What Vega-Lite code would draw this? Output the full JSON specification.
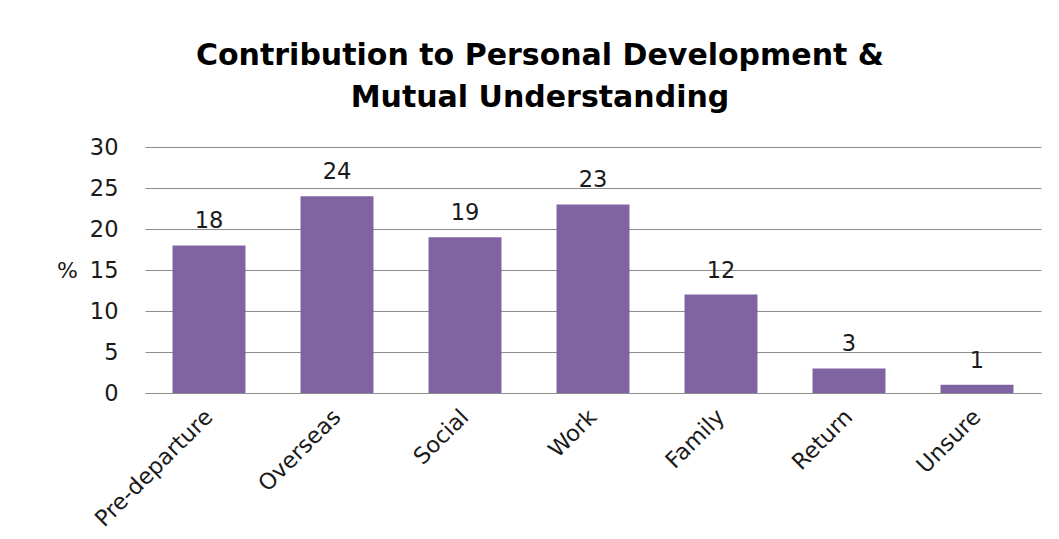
{
  "$schema": "https://vega.github.io/schema/vega-lite/v6.json",
  "autosize": "none",
  "width": 896,
  "height": 246,
  "padding": {"left": 145, "top": 147, "right": 18, "bottom": 146},
  "background": "white",
  "title": {
    "text": ["Contribution to Personal Development &", "Mutual Understanding"],
    "font": "DejaVu Sans",
    "fontSize": 30,
    "fontWeight": "bold",
    "color": "#000000",
    "lineHeight": 42,
    "anchor": "middle",
    "dx": -53,
    "offset": 23
  },
  "data": {
    "values": [
      {"stage": "Pre-departure", "pct": 18},
      {"stage": "Overseas", "pct": 24},
      {"stage": "Social", "pct": 19},
      {"stage": "Work", "pct": 23},
      {"stage": "Family", "pct": 12},
      {"stage": "Return", "pct": 3},
      {"stage": "Unsure", "pct": 1}
    ]
  },
  "encoding": {
    "x": {
      "field": "stage",
      "type": "nominal",
      "sort": null,
      "scale": {"paddingInner": 0.43, "paddingOuter": 0.215},
      "axis": {
        "title": null,
        "labelAngle": -45,
        "labelAlign": "right",
        "labelBaseline": "middle",
        "labelFont": "DejaVu Sans",
        "labelFontSize": 22.5,
        "labelColor": "#1a1a1a",
        "labelPadding": 20,
        "ticks": false,
        "domain": true,
        "domainColor": "#8c8c8c",
        "domainWidth": 1,
        "grid": false
      }
    },
    "y": {
      "field": "pct",
      "type": "quantitative",
      "scale": {"domain": [0, 30]},
      "axis": {
        "title": "%",
        "titleAngle": 0,
        "titleFont": "DejaVu Sans",
        "titleFontSize": 22,
        "titleFontWeight": "normal",
        "titleColor": "#1a1a1a",
        "titlePadding": 12,
        "titleAlign": "right",
        "titleBaseline": "middle",
        "values": [0, 5, 10, 15, 20, 25, 30],
        "labelFont": "DejaVu Sans",
        "labelFontSize": 22.5,
        "labelColor": "#1a1a1a",
        "labelPadding": 27,
        "ticks": false,
        "domain": false,
        "grid": true,
        "gridColor": "#8c8c8c",
        "gridWidth": 1
      }
    }
  },
  "layer": [
    {"mark": {"type": "bar", "color": "#8064A2"}},
    {
      "mark": {"type": "text", "dy": -24, "font": "DejaVu Sans", "fontSize": 22.5, "color": "#1a1a1a"},
      "encoding": {"text": {"field": "pct", "type": "quantitative"}}
    }
  ],
  "config": {"view": {"stroke": null}}
}
